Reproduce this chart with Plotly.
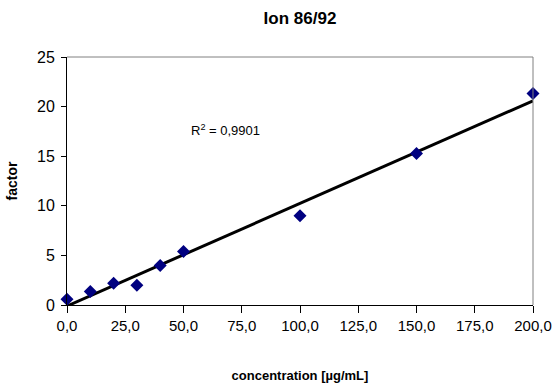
import numpy as np
import plotly.graph_objects as go

title_text = "Ion 86/92"
x_title = "concentration [µg/mL]"
y_title = "factor"
r2_text = "R<sup>2</sup> = 0,9901"

concentration = [0, 10, 20, 30, 40, 50, 100, 150, 200]
factor = [0.58, 1.35, 2.2, 2.0, 3.98, 5.4, 9.0, 15.28, 21.33]

x_tickvals = [0, 25, 50, 75, 100, 125, 150, 175, 200]
x_ticktext = ["0,0", "25,0", "50,0", "75,0", "100,0", "125,0", "150,0", "175,0", "200,0"]
y_tickvals = [0, 5, 10, 15, 20, 25]

x = np.array(concentration, dtype=float)
y = np.array(factor, dtype=float)
slope, intercept = np.polyfit(x, y, 1)

x_line = np.array([x.min(), x.max()])
y_line = slope * x_line + intercept

FONT = "Liberation Sans, Arial, sans-serif"

fig = go.Figure()
fig.add_trace(go.Scatter(
    x=x_line, y=y_line, mode="lines",
    line=dict(color="black", width=3),
    showlegend=False, hoverinfo="skip",
))
fig.add_trace(go.Scatter(
    x=concentration, y=factor, mode="markers",
    marker=dict(symbol="diamond", color="#000080", size=10, line=dict(width=0)),
    showlegend=False, cliponaxis=False,
))

fig.add_annotation(
    x=0.341, y=0.745, xref="paper", yref="paper",
    text=r2_text,
    showarrow=False, font=dict(family=FONT, size=13, color="black"),
)

# gray plot-area border on top and right
fig.add_shape(type="line", xref="paper", yref="paper", x0=0, x1=1, y0=1, y1=1,
              line=dict(color="#808080", width=1))
fig.add_shape(type="line", xref="paper", yref="paper", x0=1, x1=1, y0=0, y1=1,
              line=dict(color="#808080", width=1))

fig.update_layout(
    width=554, height=383,
    margin=dict(l=67, r=21, t=57, b=78, autoexpand=False),
    paper_bgcolor="white", plot_bgcolor="white",
    font=dict(family=FONT, color="black"),
    title=dict(text="<b>" + title_text + "</b>", x=300 / 554, xanchor="center",
               y=1 - 18 / 383, yanchor="middle",
               font=dict(family=FONT, size=17, color="black")),
    xaxis=dict(
        range=[0, 200], tickvals=x_tickvals, ticktext=x_ticktext, automargin=False,
        showgrid=False, zeroline=False, showline=True, linecolor="black", linewidth=1,
        ticks="outside", ticklen=7, tickcolor="black", tickwidth=1,
        tickfont=dict(family=FONT, size=15, color="black"),
        title=dict(text="<b>" + x_title + "</b>", font=dict(family=FONT, size=13, color="black"),
                   standoff=38),
    ),
    yaxis=dict(
        range=[0, 25], tickvals=y_tickvals, automargin=False,
        showgrid=False, zeroline=False, showline=True, linecolor="black", linewidth=1,
        ticks="outside", ticklen=5, tickcolor="black", tickwidth=1, ticklabelstandoff=3,
        tickfont=dict(family=FONT, size=16, color="black"),
        title=dict(text="<b>" + y_title + "</b>", font=dict(family=FONT, size=14, color="black"),
                   standoff=16),
    ),
)

fig.write_html("out.html", config={"displayModeBar": False},
               post_script="document.body.style.margin='0';document.body.style.overflow='hidden';")
